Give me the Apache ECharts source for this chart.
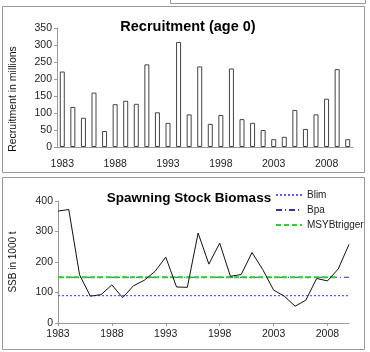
<!DOCTYPE html>
<html>
<head>
<meta charset="utf-8">
<script src="https://cdn.jsdelivr.net/npm/echarts@6/dist/echarts.min.js"></script>
<style>
html,body{margin:0;padding:0;background:#fff;}
#chart{width:370px;height:352px;}
</style>
</head>
<body>
<div id="chart"></div>
<script>
// years on both panels
var years = [];
for (var y = 1983; y <= 2010; y++) years.push(String(y));

// recruitment, age 0 (millions)
var recruitment = [222, 118, 86, 160, 47, 126, 136, 127, 243, 102, 71, 309, 96, 237,
    68, 94, 231, 82, 71, 50, 23, 30, 109, 53, 96, 142, 229, 23];

// spawning stock biomass (1000 t)
var ssb = [367, 372, 158, 88, 93, 125, 83, 122, 140, 169, 216, 118, 117, 295,
    193, 262, 153, 159, 231, 175, 108, 88, 55, 75, 146, 138, 177, 258];

// reference points
var blim = 90;
var bpa = 150;
var msyBtrigger = 150;

var recTicks = [0, 350, 50];
var ssbTicks = [0, 400, 100];

function flat(v, n) {
    var arr = [];
    for (var i = 0; i < years.length; i++) arr.push(i < n ? v : '-');
    return arr;
}

var font = 'Liberation Sans, Arial, sans-serif';
var myChart = echarts.init(document.getElementById('chart'));

myChart.setOption({
    animation: false,
    backgroundColor: '#fff',
    textStyle: { fontFamily: font },
    title: [
        {
            text: 'Recruitment (age 0)',
            left: 183, top: 14, textAlign: 'center',
            textStyle: { fontSize: 14.5, fontWeight: 'bold', color: '#000', fontFamily: font }
        },
        {
            text: 'Spawning Stock Biomass',
            left: 184, top: 186, textAlign: 'center',
            textStyle: { fontSize: 13.5, fontWeight: 'bold', color: '#000', fontFamily: font }
        }
    ],
    legend: {
        orient: 'vertical',
        left: 270, top: 185,
        itemWidth: 26, itemHeight: 8, itemGap: 5,
        itemStyle: { opacity: 0 },
        textStyle: { fontSize: 10, color: '#222' },
        data: ['Blim', 'Bpa', 'MSYBtrigger']
    },
    graphic: [
        { type: 'rect', shape: { x: 2.5, y: 6.5, width: 362, height: 166 }, style: { fill: 'none', stroke: '#999', lineWidth: 1 }, z: -1 },
        { type: 'rect', shape: { x: 2.5, y: 177.5, width: 362, height: 172 }, style: { fill: 'none', stroke: '#999', lineWidth: 1 }, z: -1 },
        { type: 'rect', shape: { x: 170.5, y: -5, width: 195, height: 8.5 }, style: { fill: 'none', stroke: '#999', lineWidth: 1 }, z: -1 },
        {
            type: 'text', x: 13, y: 99, rotation: Math.PI / 2,
            style: { text: 'Recruitment in millions', fontSize: 10.5, fontFamily: font, fill: '#111', align: 'center', verticalAlign: 'middle' }
        }
    ],
    grid: [
        { left: 57, top: 28, width: 296, height: 119 },
        { left: 57, top: 201, width: 292, height: 122 }
    ],
    xAxis: [
        {
            gridIndex: 0, type: 'category', data: years, boundaryGap: true,
            axisLine: { lineStyle: { color: '#999' } },
            axisTick: { interval: 4, length: 3, lineStyle: { color: '#999' } },
            axisLabel: { interval: 4, fontSize: 10.5, color: '#222', margin: 12 }
        },
        {
            gridIndex: 1, type: 'category', data: years, boundaryGap: false,
            axisLine: { lineStyle: { color: '#999' } },
            axisTick: { interval: 4, length: 3, lineStyle: { color: '#999' } },
            axisLabel: { interval: 4, fontSize: 10.5, color: '#222', margin: 6 }
        }
    ],
    yAxis: [
        {
            gridIndex: 0, type: 'value', min: recTicks[0], max: recTicks[1], interval: recTicks[2],
            axisLine: { show: true, lineStyle: { color: '#999' } },
            axisTick: { show: true, length: 3, lineStyle: { color: '#999' } },
            splitLine: { show: false },
            axisLabel: { fontSize: 10.5, color: '#222', margin: 5 }
        },
        {
            gridIndex: 1, type: 'value', min: ssbTicks[0], max: ssbTicks[1], interval: ssbTicks[2],
            name: 'SSB in 1000 t', nameLocation: 'middle', nameGap: 40,
            nameTextStyle: { fontSize: 10, color: '#111' },
            axisLine: { show: true, lineStyle: { color: '#999' } },
            axisTick: { show: true, length: 3, lineStyle: { color: '#999' } },
            splitLine: { show: false },
            axisLabel: { fontSize: 10.5, color: '#222', margin: 5 }
        }
    ],
    series: [
        {
            name: 'Recruitment', type: 'bar', xAxisIndex: 0, yAxisIndex: 0,
            data: recruitment, barWidth: 5,
            itemStyle: { color: '#fff', borderColor: '#444', borderWidth: 1 }
        },
        {
            name: 'Blim', type: 'line', xAxisIndex: 1, yAxisIndex: 1,
            data: flat(blim, years.length), symbol: 'none',
            itemStyle: { color: '#5b5bf0' },
            lineStyle: { color: '#5b5bf0', width: 1.2, type: [2, 2] }, z: 2
        },
        {
            name: 'Bpa', type: 'line', xAxisIndex: 1, yAxisIndex: 1,
            data: flat(bpa, years.length), symbol: 'none',
            itemStyle: { color: '#3333aa' },
            lineStyle: { color: '#3333aa', width: 1.2, type: [6, 3, 1, 3] }, z: 2
        },
        {
            name: 'MSYBtrigger', type: 'line', xAxisIndex: 1, yAxisIndex: 1,
            data: flat(msyBtrigger, years.length - 1), symbol: 'none',
            itemStyle: { color: '#33cc33' },
            lineStyle: { color: '#33cc33', width: 2, type: [5, 3] }, z: 3
        },
        {
            name: 'SSB', type: 'line', xAxisIndex: 1, yAxisIndex: 1,
            data: ssb, symbol: 'none',
            lineStyle: { color: '#111', width: 1 }, z: 4
        }
    ]
});
</script>
</body>
</html>
